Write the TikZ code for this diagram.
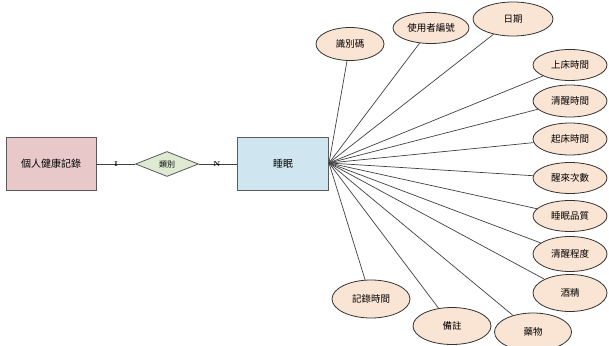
\documentclass[tikz,border=0pt]{standalone}
\usepackage{fontspec}
\newfontfamily\cjk{Noto Sans CJK TC}
\usetikzlibrary{shapes.geometric}
\definecolor{pinkfill}{RGB}{232,200,200}
\definecolor{bluefill}{RGB}{207,230,240}
\definecolor{greenfill}{RGB}{222,234,210}
\definecolor{peach}{RGB}{250,228,212}
\definecolor{edgegray}{RGB}{90,90,90}
\tikzset{
  entity/.style={draw=edgegray, line width=0.9pt, minimum width=90pt, minimum height=53pt, inner sep=0pt, font=\cjk\fontsize{10}{12}\selectfont},
  rel/.style={draw=edgegray, line width=0.8pt, fill=greenfill, diamond, aspect=2.5, minimum width=63pt, minimum height=25pt, inner sep=0pt, font=\cjk\fontsize{8}{10}\selectfont},
  attr/.style={draw=black!80, line width=0.8pt, fill=peach, ellipse, minimum width=76pt, minimum height=34pt, inner sep=0pt, font=\cjk\fontsize{9.5}{11}\selectfont},
  link/.style={draw=black!75, line width=0.7pt},
  card/.style={font=\rmfamily\bfseries\fontsize{7}{8}\selectfont, inner sep=0pt}
}
\begin{document}
\begin{tikzpicture}[x=1pt,y=-1pt]
\useasboundingbox (0,0) rectangle (609,345);
\node[entity, fill=pinkfill] (rec) at (51,164) {個人健康記錄};
\node[rel] (cat) at (167,164) {類別};
\node[entity, fill=bluefill, minimum width=91pt] (sleep) at (283,164) {睡眠};
\coordinate (hub) at (329,163);
\draw[link] (rec) -- (cat);
\draw[link] (cat) -- (sleep);
\node[card] (one) at (116,164) {I};
\node[card] (n) at (217,164) {N};

\node[attr, minimum width=68pt, minimum height=33pt] (a1) at (350,44) {識別碼};
\node[attr, minimum width=76pt, minimum height=31pt] (a2) at (431,28) {使用者編號};
\node[attr, minimum width=80pt, minimum height=34pt] (a3) at (513,19) {日期};
\node[attr, minimum width=74pt, minimum height=31pt] (a4) at (570,65) {上床時間};
\node[attr, minimum width=74pt, minimum height=32pt] (a5) at (570,101) {清醒時間};
\node[attr, minimum width=74pt, minimum height=32pt] (a6) at (570,139) {起床時間};
\node[attr, minimum width=74pt, minimum height=31pt] (a7) at (570,178) {醒來次數};
\node[attr, minimum width=74pt, minimum height=31pt] (a8) at (570,216) {睡眠品質};
\node[attr, minimum width=74pt, minimum height=35pt] (a9) at (570,254) {清醒程度};
\node[attr, minimum width=74pt, minimum height=37pt] (a10) at (570,293) {酒精};
\node[attr, minimum width=78pt, minimum height=38pt] (a11) at (371,299) {記錄時間};
\node[attr, minimum width=78pt, minimum height=37pt] (a12) at (452,326) {備註};
\node[attr, minimum width=77pt, minimum height=38pt] (a13) at (533,332) {藥物};

\foreach \a in {a1,a2,a3,a4,a5,a6,a7,a8,a9,a10,a11,a12,a13}
  \draw[link] (hub) -- (\a);
\end{tikzpicture}
\end{document}
